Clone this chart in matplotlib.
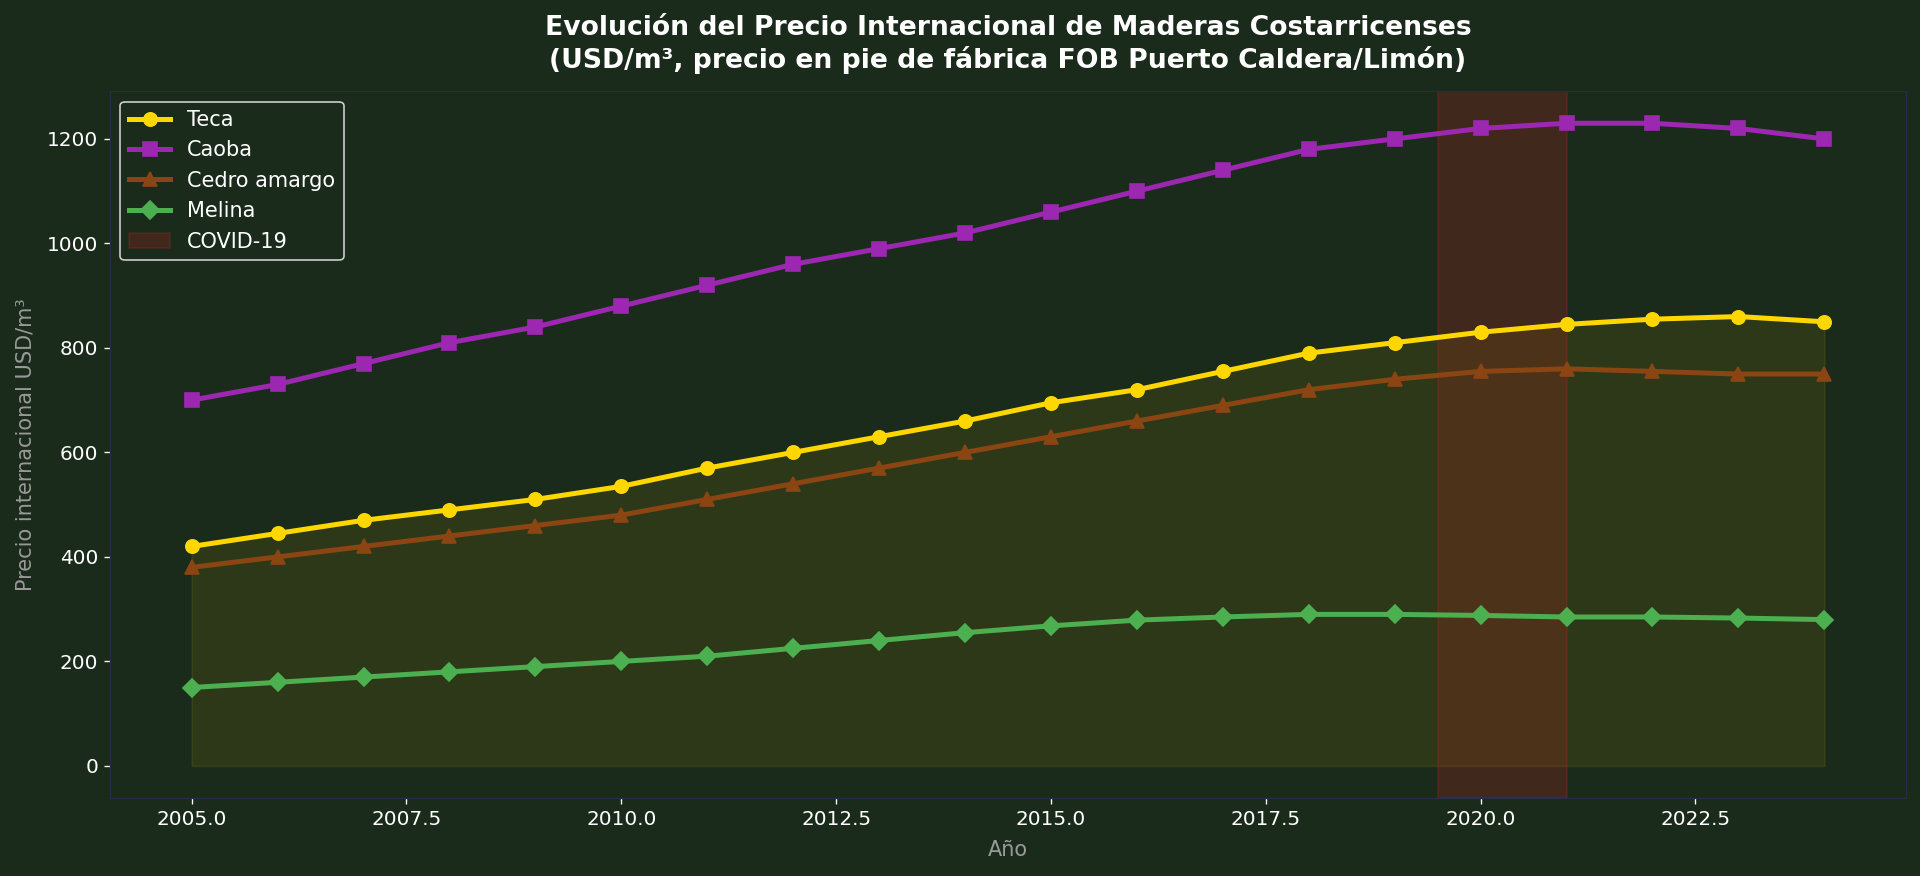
import matplotlib
matplotlib.use("Agg")
import matplotlib.pyplot as plt

years = list(range(2005, 2025))
teca = [420, 445, 470, 490, 510, 535, 570, 600, 630, 660, 695, 720, 755, 790, 810, 830, 845, 855, 860, 850]
caoba = [700, 730, 770, 810, 840, 880, 920, 960, 990, 1020, 1060, 1100, 1140, 1180, 1200, 1220, 1230, 1230, 1220, 1200]
cedro = [380, 400, 420, 440, 460, 480, 510, 540, 570, 600, 630, 660, 690, 720, 740, 755, 760, 755, 750, 750]
melina = [150, 160, 170, 180, 190, 200, 210, 225, 240, 255, 268, 279, 285, 290, 290, 288, 285, 285, 283, 280]
covid_start, covid_end = 2019.5, 2021

bg = "#1b2b1b"
fig = plt.figure(figsize=(16, 7.3), dpi=120, facecolor=bg)
ax = fig.add_axes([0.0573, 0.089, 0.9354, 0.807])
ax.set_facecolor(bg)

ax.plot(years, teca, color="#FFD700", lw=3, marker="o", ms=8, label="Teca")
ax.plot(years, caoba, color="#9C27B0", lw=3, marker="s", ms=8, label="Caoba")
ax.plot(years, cedro, color="#8B4513", lw=3, marker="^", ms=8, label="Cedro amargo")
ax.plot(years, melina, color="#4CAF50", lw=3, marker="D", ms=8, label="Melina")
ax.fill_between(years, 0, teca, color="#FFD700", alpha=0.08)
ax.axvspan(covid_start, covid_end, facecolor="#B22222", edgecolor="#B22222", alpha=0.25, label="COVID-19")

ax.set_title("Evolución del Precio Internacional de Maderas Costarricenses\n(USD/m³, precio en pie de fábrica FOB Puerto Caldera/Limón)",
             color="white", fontsize=16, fontweight="bold", pad=14)
ax.set_xlabel("Año", color="#999999", fontsize=12.5, labelpad=7)
ax.set_ylabel("Precio internacional USD/m³", color="#999999", fontsize=12.5, labelpad=7)
ax.tick_params(colors="white", labelsize=12)
for s in ax.spines.values():
    s.set_color("#2a2a4a")

leg = ax.legend(loc="upper left", facecolor=bg, edgecolor="#cccccc", fontsize=12.5, framealpha=1)
for t in leg.get_texts():
    t.set_color("white")

fig.savefig("out.png", dpi=120, facecolor=bg)
